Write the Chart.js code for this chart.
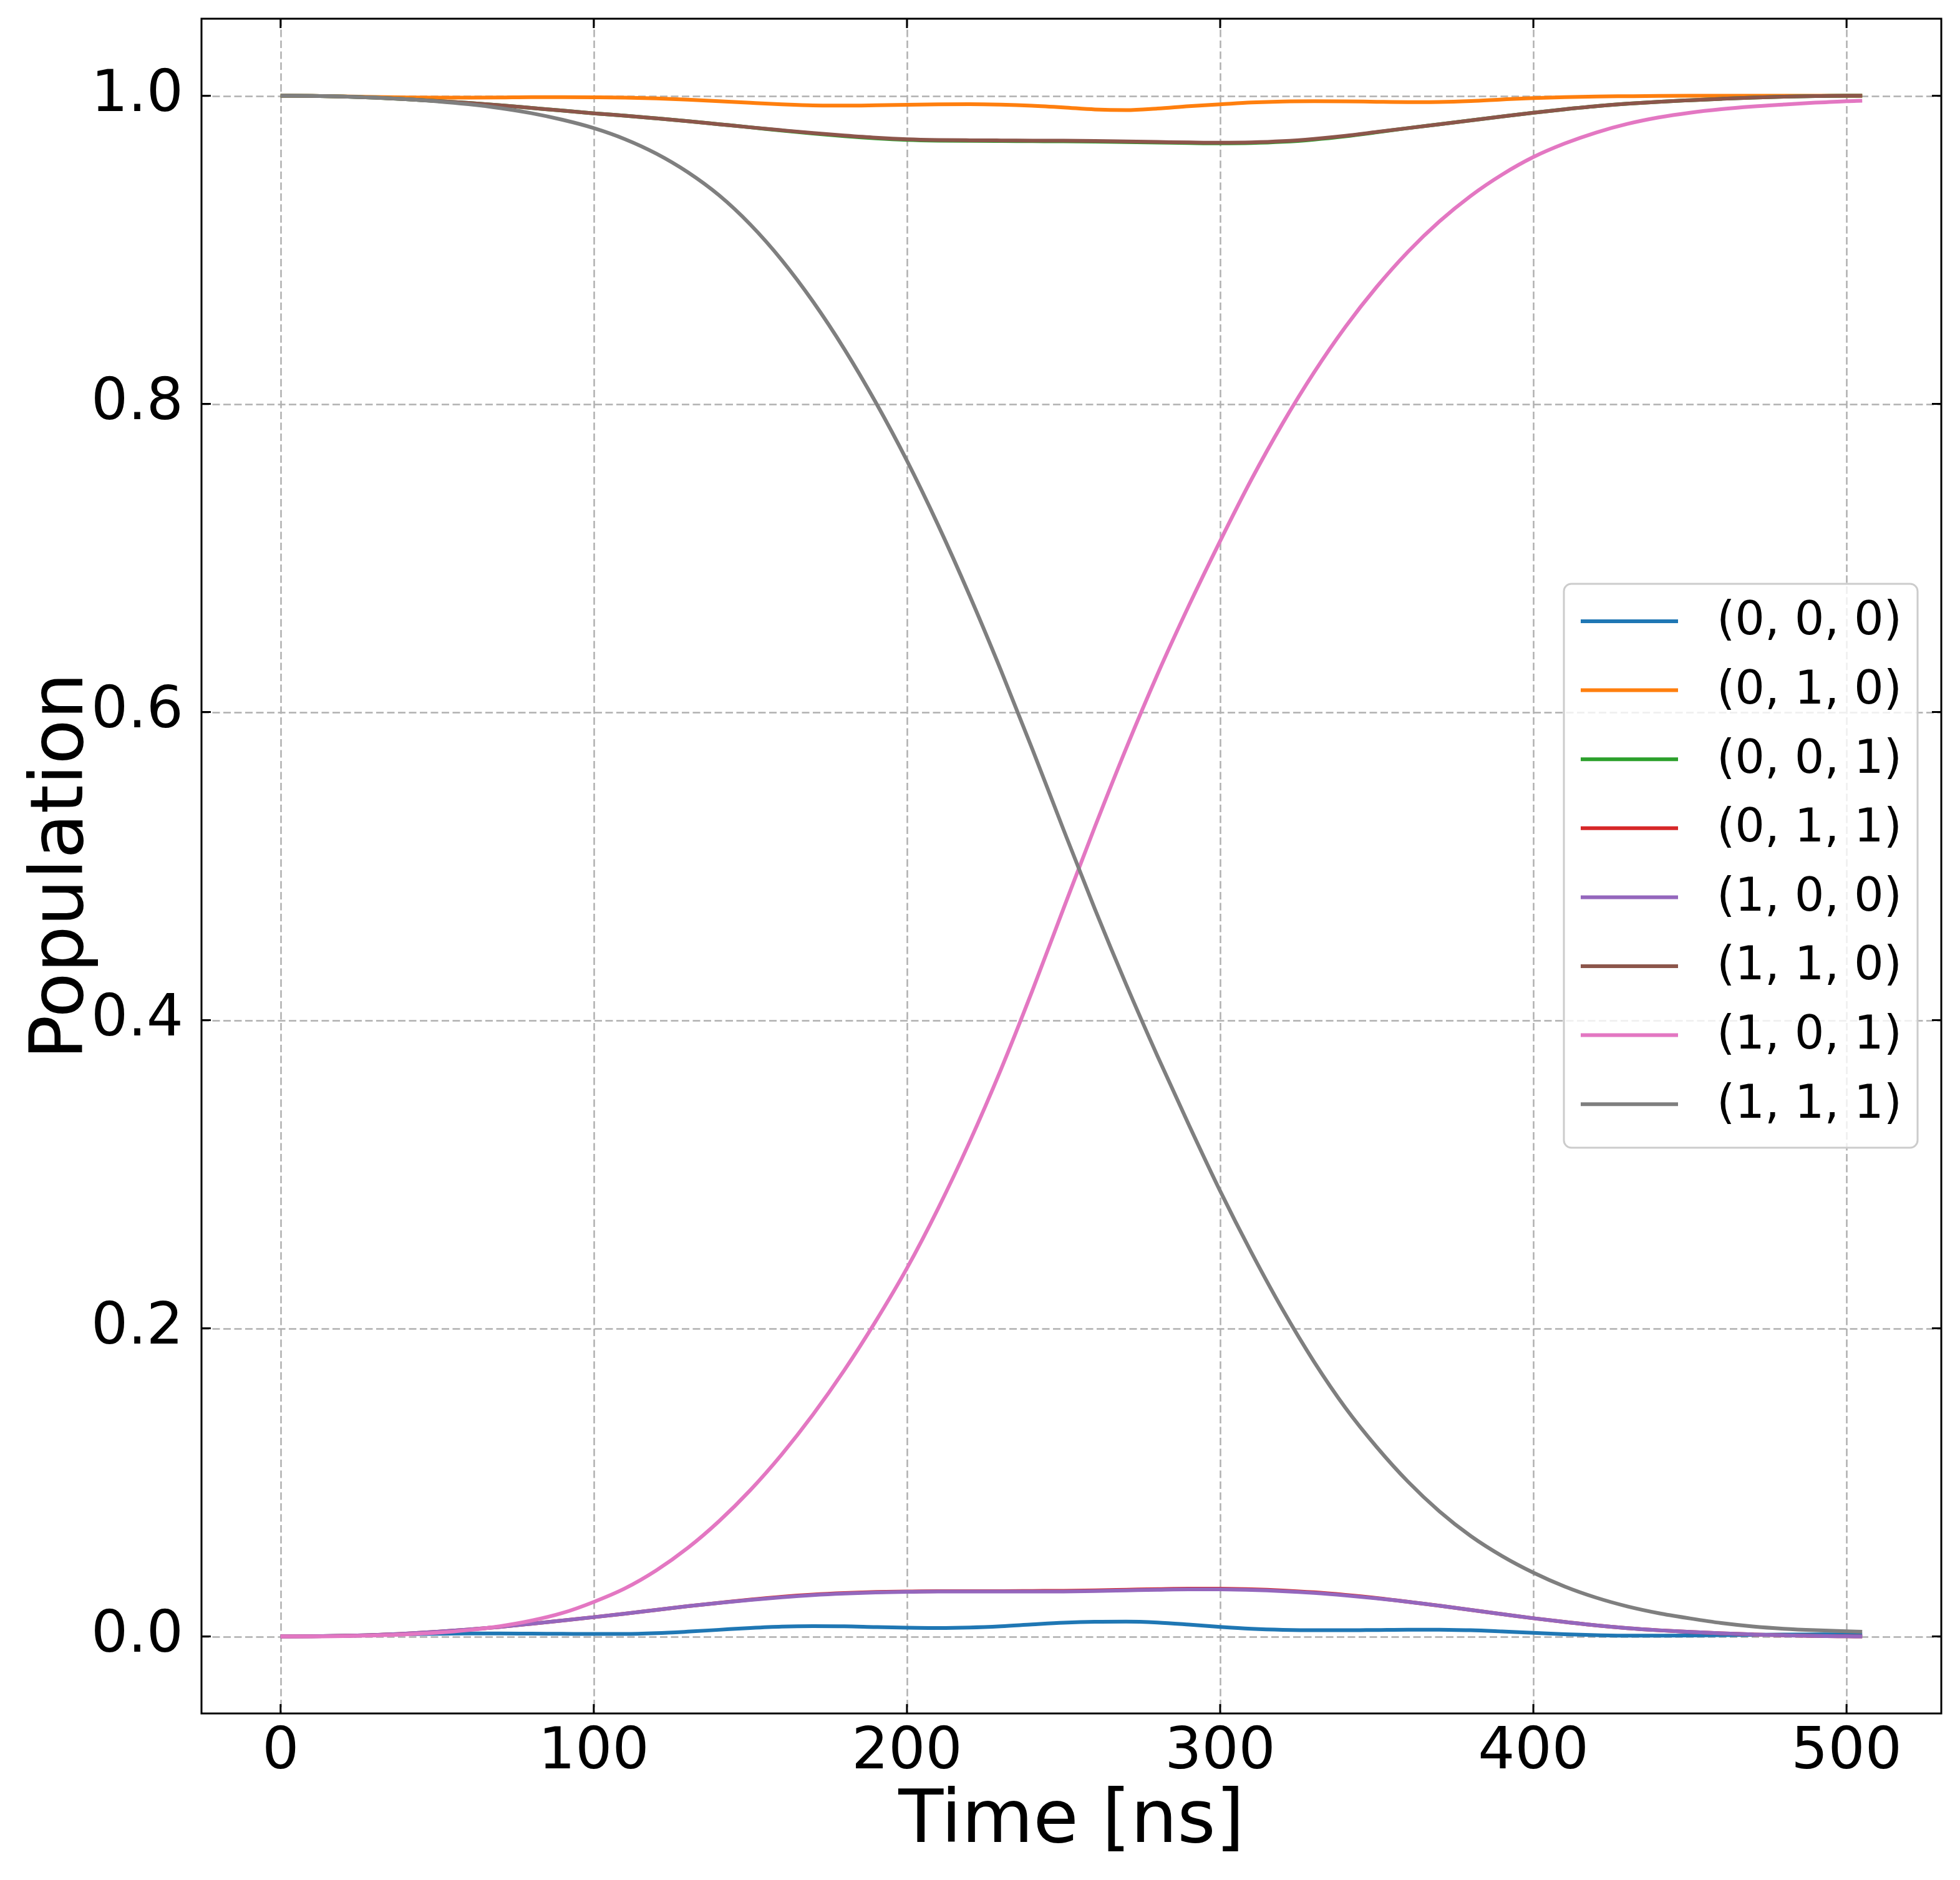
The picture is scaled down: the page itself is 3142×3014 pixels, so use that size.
<!DOCTYPE html>
<html>
<head>
<meta charset="utf-8">
<script src="https://cdn.jsdelivr.net/npm/chart.js@4.4.1/dist/chart.umd.min.js"></script>
<style>
  html, body { margin: 0; padding: 0; background: #ffffff; }
  canvas { display: block; }
</style>
</head>
<body>
<canvas id="popChart" width="3142" height="3014"></canvas>
<script>
// time axis (ns)
const timeNs = [0, 10, 20, 30, 40, 50, 60, 70, 80, 90, 100, 110, 120, 130, 140, 150, 160, 170, 180, 190,
  200, 210, 220, 230, 240, 250, 260, 270, 280, 290, 300, 310, 320, 330, 340, 350, 360, 370, 380, 390,
  400, 410, 420, 430, 440, 450, 460, 470, 480, 490, 500, 505];

// populations
const pop000 = [0, 0.0001, 0.0004, 0.0009, 0.0014, 0.0017, 0.0019, 0.0019, 0.0018, 0.0017, 0.0016, 0.0016, 0.0021, 0.0031, 0.0043, 0.0055, 0.0064, 0.0067, 0.0066, 0.0061,
  0.0057, 0.0055, 0.0058, 0.0066, 0.0078, 0.0089, 0.0095, 0.0096, 0.0090, 0.0077, 0.0062, 0.0050, 0.0043, 0.0040, 0.0040, 0.0042, 0.0044, 0.0044, 0.0040, 0.0032,
  0.0023, 0.0014, 0.0008, 0.0005, 0.0005, 0.0006, 0.0008, 0.0010, 0.0012, 0.0013, 0.0013, 0.0013];
const pop010 = [1.0, 0.9999, 0.9996, 0.9992, 0.9989, 0.9988, 0.9988, 0.9989, 0.9991, 0.9991, 0.9990, 0.9988, 0.9983, 0.9975, 0.9965, 0.9954, 0.9944, 0.9937, 0.9936, 0.9938,
  0.9941, 0.9944, 0.9945, 0.9942, 0.9935, 0.9924, 0.9911, 0.9907, 0.9917, 0.9932, 0.9944, 0.9956, 0.9963, 0.9965, 0.9964, 0.9961, 0.9959, 0.9960, 0.9966, 0.9976,
  0.9985, 0.9991, 0.9995, 0.9997, 0.9999, 1.0, 1.0, 1.0, 1.0, 1.0, 1.0, 1.0];
const pop001 = [1.0, 0.9999, 0.9995, 0.9988, 0.9978, 0.9966, 0.9953, 0.9938, 0.9921, 0.9904, 0.9886, 0.9870, 0.9853, 0.9835, 0.9815, 0.9795, 0.9774, 0.9755, 0.9738, 0.9724,
  0.9714, 0.9709, 0.9707, 0.9706, 0.9705, 0.9704, 0.9702, 0.9699, 0.9696, 0.9693, 0.9691, 0.9693, 0.9701, 0.9716, 0.9737, 0.9763, 0.9790, 0.9815, 0.9840, 0.9865,
  0.9890, 0.9912, 0.9932, 0.9948, 0.9961, 0.9971, 0.9980, 0.9988, 0.9994, 0.9998, 1.0, 1.0];
const pop011 = [0, 0.0001, 0.0004, 0.0009, 0.0018, 0.0030, 0.0045, 0.0062, 0.0082, 0.0103, 0.0125, 0.0148, 0.0172, 0.0196, 0.0218, 0.0239, 0.0257, 0.0271, 0.0281, 0.0288,
  0.0292, 0.0294, 0.0294, 0.0294, 0.0295, 0.0296, 0.0299, 0.0303, 0.0307, 0.0310, 0.0310, 0.0306, 0.0298, 0.0286, 0.0269, 0.0249, 0.0225, 0.0199, 0.0172, 0.0145,
  0.0118, 0.0094, 0.0072, 0.0054, 0.0040, 0.0029, 0.0020, 0.0013, 0.0007, 0.0003, 0.0001, 0];
const pop100 = [0, 0.0001, 0.0004, 0.0009, 0.0018, 0.0030, 0.0045, 0.0062, 0.0082, 0.0103, 0.0125, 0.0148, 0.0172, 0.0196, 0.0218, 0.0237, 0.0254, 0.0268, 0.0278, 0.0285,
  0.0289, 0.0291, 0.0291, 0.0291, 0.0291, 0.0292, 0.0295, 0.0299, 0.0303, 0.0306, 0.0306, 0.0302, 0.0294, 0.0282, 0.0266, 0.0247, 0.0225, 0.0199, 0.0172, 0.0145,
  0.0118, 0.0094, 0.0072, 0.0054, 0.0040, 0.0029, 0.0020, 0.0013, 0.0007, 0.0003, 0.0001, 0];
const pop110 = [1.0, 0.9999, 0.9995, 0.9988, 0.9978, 0.9966, 0.9953, 0.9938, 0.9921, 0.9904, 0.9886, 0.9870, 0.9853, 0.9835, 0.9815, 0.9795, 0.9776, 0.9758, 0.9742, 0.9728,
  0.9718, 0.9713, 0.9711, 0.9710, 0.9709, 0.9708, 0.9706, 0.9703, 0.9700, 0.9697, 0.9695, 0.9697, 0.9705, 0.9720, 0.9740, 0.9765, 0.9790, 0.9815, 0.9840, 0.9865,
  0.9890, 0.9912, 0.9932, 0.9948, 0.9961, 0.9971, 0.9980, 0.9988, 0.9994, 0.9998, 1.0, 1.0];
const pop101 = [0, 0, 0.0002, 0.0006, 0.0013, 0.0024, 0.0041, 0.0066, 0.0102, 0.0152, 0.0224, 0.0312, 0.0429, 0.0574, 0.0748, 0.0950, 0.1181, 0.1440, 0.1728, 0.2045,
  0.2390, 0.2780, 0.3210, 0.3680, 0.4190, 0.4725, 0.5255, 0.5765, 0.6245, 0.6690, 0.7110, 0.7510, 0.7875, 0.8205, 0.8500, 0.8760, 0.8988, 0.9184, 0.9350, 0.9488,
  0.9602, 0.9690, 0.9761, 0.9817, 0.9859, 0.9890, 0.9913, 0.9930, 0.9943, 0.9955, 0.9965, 0.9968];
const pop111 = [1.0, 0.9999, 0.9995, 0.9988, 0.9978, 0.9964, 0.9945, 0.9920, 0.9887, 0.9844, 0.9790, 0.9718, 0.9624, 0.9504, 0.9354, 0.9164, 0.8934, 0.8664, 0.8356, 0.8011,
  0.7631, 0.7211, 0.6756, 0.6271, 0.5761, 0.5236, 0.4721, 0.4231, 0.3766, 0.3321, 0.2891, 0.2491, 0.2119, 0.1782, 0.1484, 0.1229, 0.1004, 0.0812, 0.0652, 0.0522,
  0.0414, 0.0324, 0.0252, 0.0195, 0.0151, 0.0117, 0.0087, 0.0065, 0.0050, 0.0040, 0.0033, 0.0030];

const stateLabels = ['(0, 0, 0)', '(0, 1, 0)', '(0, 0, 1)', '(0, 1, 1)', '(1, 0, 0)', '(1, 1, 0)', '(1, 0, 1)', '(1, 1, 1)'];
const stateSeries = [pop000, pop010, pop001, pop011, pop100, pop110, pop101, pop111];
const stateColors = ['#1f77b4', '#ff7f0e', '#2ca02c', '#d62728', '#9467bd', '#8c564b', '#e377c2', '#7f7f7f'];

const xTicks = [0, 100, 200, 300, 400, 500];
const yTicks = [0.0, 0.2, 0.4, 0.6, 0.8, 1.0];

const FONT = "'DejaVu Sans', sans-serif";

const datasets = stateSeries.map((vals, i) => ({
  label: stateLabels[i],
  data: vals.map((v, k) => ({ x: timeNs[k], y: v })),
  borderColor: stateColors[i],
  backgroundColor: stateColors[i],
  borderWidth: 6,
  pointRadius: 0,
  fill: false,
  cubicInterpolationMode: 'monotone',
  // matplotlib draws later series on top
  order: stateSeries.length - 1 - i
}));

// dashed grid, frame and inward ticks like the original plot
const framePlugin = {
  id: 'framePlugin',
  beforeDatasetsDraw(chart) {
    const { ctx, chartArea: a, scales: { x, y } } = chart;
    ctx.save();
    ctx.strokeStyle = '#b0b0b0';
    ctx.lineWidth = 2.5;
    ctx.setLineDash([12, 5.5]);
    xTicks.forEach(t => {
      const px = Math.round(x.getPixelForValue(t)) + 0.5;
      ctx.beginPath();
      ctx.moveTo(px, a.top);
      ctx.lineTo(px, a.bottom);
      ctx.stroke();
    });
    yTicks.forEach(t => {
      const py = Math.round(y.getPixelForValue(t)) + 0.5;
      ctx.beginPath();
      ctx.moveTo(a.left, py);
      ctx.lineTo(a.right, py);
      ctx.stroke();
    });
    ctx.restore();
  },
  afterDatasetsDraw(chart) {
    const { ctx, chartArea: a, scales: { x, y } } = chart;
    ctx.save();
    ctx.strokeStyle = '#000000';
    ctx.lineWidth = 3;
    ctx.setLineDash([]);
    const len = 15;
    xTicks.forEach(t => {
      const px = x.getPixelForValue(t);
      ctx.beginPath();
      ctx.moveTo(px, a.bottom);
      ctx.lineTo(px, a.bottom - len);
      ctx.moveTo(px, a.top);
      ctx.lineTo(px, a.top + len);
      ctx.stroke();
    });
    yTicks.forEach(t => {
      const py = y.getPixelForValue(t);
      ctx.beginPath();
      ctx.moveTo(a.left, py);
      ctx.lineTo(a.left + len, py);
      ctx.moveTo(a.right, py);
      ctx.lineTo(a.right - len, py);
      ctx.stroke();
    });
    ctx.strokeRect(a.left, a.top, a.right - a.left, a.bottom - a.top);
    ctx.restore();
  },
  afterDraw(chart) {
    const { ctx, chartArea: a } = chart;
    const bx = a.right - 605, by = 936, bw = 567, bh = 904;
    ctx.save();
    ctx.globalAlpha = 0.8;
    ctx.fillStyle = '#ffffff';
    ctx.beginPath();
    ctx.roundRect(bx, by, bw, bh, 12);
    ctx.fill();
    ctx.globalAlpha = 1;
    ctx.strokeStyle = '#cccccc';
    ctx.lineWidth = 3;
    ctx.stroke();
    ctx.font = '75px ' + FONT;
    ctx.textBaseline = 'middle';
    ctx.textAlign = 'left';
    chart.data.datasets.forEach((ds, i) => {
      const ry = by + 60 + i * 110.6;
      ctx.strokeStyle = ds.borderColor;
      ctx.lineWidth = 6;
      ctx.beginPath();
      ctx.moveTo(bx + 27, ry);
      ctx.lineTo(bx + 183, ry);
      ctx.stroke();
      ctx.fillStyle = '#000000';
      ctx.fillText(ds.label, bx + 245, ry + 2);
    });
    ctx.restore();
  }
};

const config = {
  type: 'line',
  data: { datasets: datasets },
  options: {
    responsive: false,
    animation: false,
    devicePixelRatio: 1,
    layout: { padding: { top: 30, right: 30, left: 0, bottom: 0 } },
    plugins: {
      legend: { display: false },
      tooltip: { enabled: false }
    },
    scales: {
      x: {
        type: 'linear',
        min: -25.25,
        max: 530.25,
        grid: { display: false },
        border: { display: false },
        afterBuildTicks: (scale) => { scale.ticks = xTicks.map(v => ({ value: v })); },
        afterFit: (scale) => {
          scale.height = 267;
          scale.paddingLeft = 0;
          scale.paddingRight = 0;
        },
        ticks: {
          color: '#000000',
          font: { family: FONT, size: 93 },
          padding: 0,
          maxRotation: 0,
          autoSkip: false,
          callback: (v) => String(v)
        },
        title: {
          display: true,
          text: 'Time [ns]',
          color: '#000000',
          font: { family: FONT, size: 118 },
          padding: { top: 0, bottom: 21 }
        }
      },
      y: {
        type: 'linear',
        min: -0.05,
        max: 1.05,
        grid: { display: false },
        border: { display: false },
        afterBuildTicks: (scale) => { scale.ticks = yTicks.map(v => ({ value: v })); },
        afterFit: (scale) => {
          scale.width = 323;
          scale.paddingTop = 0;
          scale.paddingBottom = 0;
        },
        ticks: {
          color: '#000000',
          font: { family: FONT, size: 93 },
          padding: 21,
          autoSkip: false,
          callback: (v) => Number(v).toFixed(1)
        },
        title: {
          display: true,
          text: 'Population',
          color: '#000000',
          font: { family: FONT, size: 118 },
          padding: { top: 31, bottom: 0 }
        }
      }
    }
  },
  plugins: [framePlugin]
};

const ctx = document.getElementById('popChart');
new Chart(ctx, config);
</script>
</body>
</html>
